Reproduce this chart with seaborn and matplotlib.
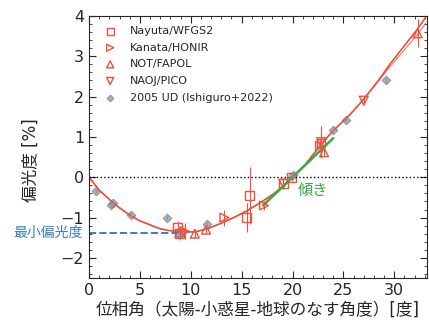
import numpy as np
import pandas as pd
import seaborn as sns
import matplotlib.pyplot as plt
from matplotlib.ticker import MultipleLocator

# phase angle [deg] / polarization degree [%]
nayuta_x = [8.7, 8.9, 15.5, 15.8, 19.1, 19.9, 22.8]
nayuta_y = [-1.24, -1.4, -1.0, -0.45, -0.16, 0.0, 0.85]
nayuta_e = [0.15, 0.15, 0.35, 0.7, 0.12, 0.1, 0.15]

kanata_x = [9.4, 13.3, 17.2, 22.7]
kanata_y = [-1.34, -1.0, -0.7, 0.78]
kanata_e = [0.2, 0.2, 0.12, 0.15]

not_x = [8.9, 10.4, 11.5, 23.1, 32.3]
not_y = [-1.37, -1.4, -1.3, 0.62, 3.57]
not_e = [0.1, 0.1, 0.08, 0.1, 0.35]

naoj_x = [19.1, 22.8, 27.0]
naoj_y = [-0.16, 0.87, 1.9]
naoj_e = [0.1, 0.4, 0.1]

ud_x = [0.7, 2.2, 2.4, 4.1, 7.7, 8.8, 11.6, 20.0, 24.0, 25.3, 29.2]
ud_y = [-0.35, -0.7, -0.65, -0.94, -1.0, -1.41, -1.17, 0.05, 1.17, 1.43, 2.4]
ud_e = [0.05, 0.05, 0.05, 0.05, 0.05, 0.05, 0.05, 0.05, 0.05, 0.05, 0.05]

# fitted phase curves
fit_x = [0, 1.0, 2.0, 2.9, 3.9, 4.9, 5.9, 6.9, 7.8, 8.8, 10.4, 11.7, 13.0, 14.3,
         15.6, 16.9, 18.2, 19.2, 20.2, 21.3, 22.6, 23.9, 25.6, 26.9, 28.5, 29.5,
         30.8, 32.2, 33.1]
fit_y = [0, -0.32, -0.55, -0.74, -0.92, -1.07, -1.17, -1.27, -1.32, -1.34, -1.36,
         -1.27, -1.14, -0.99, -0.82, -0.62, -0.4, -0.2, 0.05, 0.33, 0.75, 1.13,
         1.54, 1.91, 2.42, 2.78, 3.2, 3.65, 3.97]
fit2_y = [0, -0.32, -0.55, -0.74, -0.92, -1.07, -1.17, -1.27, -1.32, -1.34, -1.36,
          -1.27, -1.14, -0.99, -0.82, -0.62, -0.4, -0.2, 0.05, 0.33, 0.75, 1.13,
          1.54, 1.91, 2.4, 2.72, 3.1, 3.52, 3.82]

slope_x = [17.1, 24.0]
slope_y = [-0.7, 0.97]

pmin = -1.37
pmin_x = [0, 8.6]

red = '#f0503c'
gray = '#8a97a6'
blue = '#3c7cc4'
green = '#38a844'

sns.set_style('ticks')
plt.rcParams['font.family'] = ['DejaVu Sans', 'Noto Sans CJK JP']
plt.rcParams['axes.unicode_minus'] = True

fig = plt.figure(figsize=(4.29, 3.26), dpi=100)
ax = fig.add_axes([0.2075, 0.147, 0.7875, 0.804])

fit = pd.DataFrame({'x': fit_x, 'y': fit_y, 'y2': fit2_y})
sns.lineplot(data=fit, x='x', y='y', color=red, lw=1.2, ax=ax)
sns.lineplot(data=fit, x='x', y='y2', color=red, lw=0.8, alpha=0.8, ax=ax)

ax.axhline(0, color='k', ls=':', lw=1)
ax.plot(pmin_x, [pmin, pmin], color=blue, ls='--', lw=1.4)
ax.plot(slope_x, slope_y, color=green, lw=1.8)

series = [
    (nayuta_x, nayuta_y, nayuta_e, 's', 'Nayuta/WFGS2'),
    (kanata_x, kanata_y, kanata_e, '>', 'Kanata/HONIR'),
    (not_x, not_y, not_e, '^', 'NOT/FAPOL'),
    (naoj_x, naoj_y, naoj_e, 'v', 'NAOJ/PICO'),
]
for xs, ys, es, mk, lab in series:
    ax.errorbar(xs, ys, yerr=es, fmt='none', ecolor=red, elinewidth=0.8)
    sns.scatterplot(x=xs, y=ys, marker=mk, s=40, facecolor='none',
                    edgecolor=red, linewidth=1, label=lab, ax=ax)

ax.errorbar(ud_x, ud_y, yerr=ud_e, fmt='none', ecolor=gray, elinewidth=0.8)
sns.scatterplot(x=ud_x, y=ud_y, marker='D', s=20, color=gray, edgecolor='#6e7a88',
                linewidth=0.6, alpha=0.75, label='2005 UD (Ishiguro+2022)', ax=ax)

ax.set_xlim(0, 33.2)
ax.set_ylim(-2.5, 4)
ax.xaxis.set_major_locator(MultipleLocator(5))
ax.xaxis.set_minor_locator(MultipleLocator(1))
ax.yaxis.set_major_locator(MultipleLocator(1))
ax.yaxis.set_minor_locator(MultipleLocator(0.2))
ax.tick_params(which='both', direction='in', top=True, right=True, labelsize=11.5)
ax.tick_params(which='major', length=5)
ax.tick_params(which='minor', length=2.5)

ax.set_xlabel('位相角（太陽-小惑星-地球のなす角度）[度]', fontsize=12, labelpad=2)
ax.set_ylabel('偏光度 [%]', fontsize=12)
ax.yaxis.set_label_coords(-0.145, 0.45)

ax.text(20.5, -0.32, '傾き', color=green, fontsize=11, va='center')
ax.text(-0.02, pmin, '最小偏光度', color=blue, fontsize=10, va='center', ha='right',
        transform=ax.get_yaxis_transform())

ax.legend(loc='upper left', frameon=False, fontsize=8, handletextpad=0.8,
          labelspacing=0.6, borderaxespad=0.5, markerscale=0.8)

fig.savefig('out.png', dpi=100)
